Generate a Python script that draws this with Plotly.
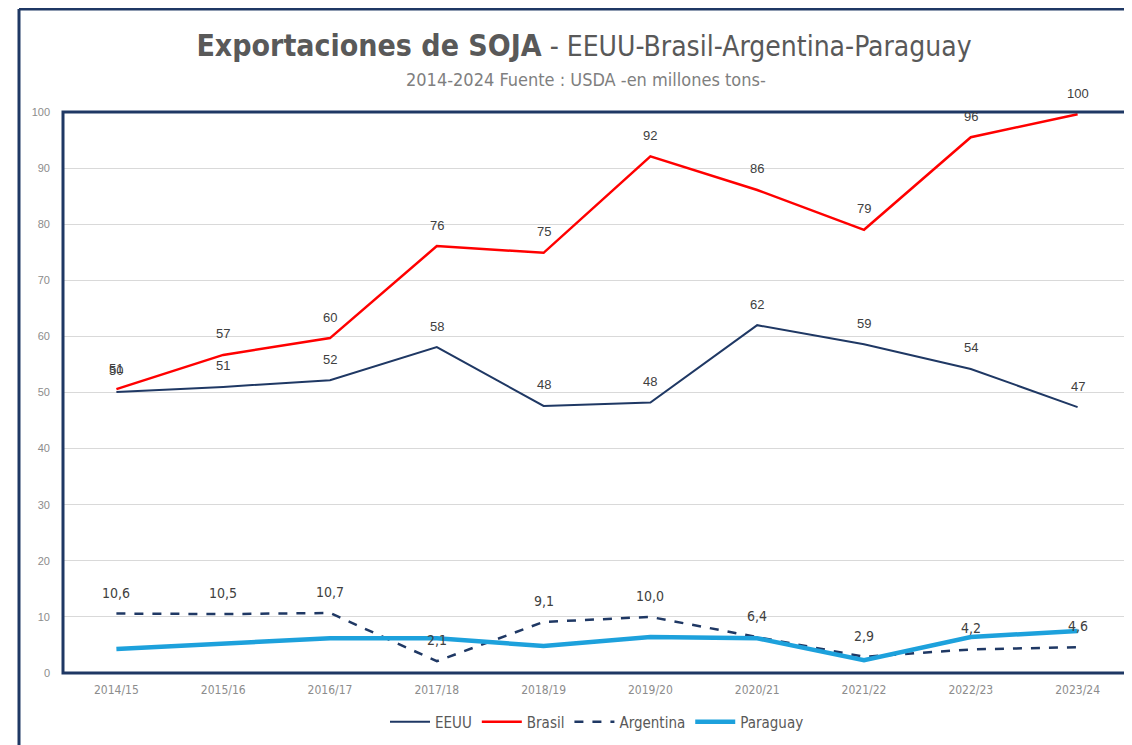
import plotly.graph_objects as go

campanias = ["2014/15", "2015/16", "2016/17", "2017/18", "2018/19",
             "2019/20", "2020/21", "2021/22", "2022/23", "2023/24"]
eeuu = [50.1, 51.0, 52.2, 58.1, 47.6, 48.2, 62.0, 58.6, 54.2, 47.4]
brasil = [50.6, 56.7, 59.7, 76.1, 74.9, 92.1, 86.1, 79.0, 95.5, 99.6]
argentina = [10.6, 10.5, 10.7, 2.1, 9.1, 10.0, 6.4, 2.9, 4.2, 4.6]
paraguay = [4.3, 5.3, 6.2, 6.2, 4.8, 6.4, 6.2, 2.3, 6.4, 7.5]

NARROW = "Liberation Sans Narrow, DejaVu Sans Condensed, Roboto Condensed, Arial Narrow, sans-serif"
ARIAL = "Liberation Sans, Arial, sans-serif"
NAVY = "#1F3864"

# page offset of 8px (body margin)
W, H = 1124, 737
L, T = 55, 104
PW = 1131 - 8 - L           # plot width
PB = 673 - 8                # plot bottom in figure coords
PH = PB - T                 # plot height

fig = go.Figure()
fig.add_trace(go.Scatter(x=campanias, y=eeuu, name="EEUU", mode="lines",
                         line=dict(color=NAVY, width=2)))
fig.add_trace(go.Scatter(x=campanias, y=brasil, name="Brasil", mode="lines",
                         line=dict(color="#FF0000", width=2.5)))
fig.add_trace(go.Scatter(x=campanias, y=argentina, name="Argentina", mode="lines",
                         line=dict(color=NAVY, width=2.5, dash="dash")))
fig.add_trace(go.Scatter(x=campanias, y=paraguay, name="Paraguay", mode="lines",
                         line=dict(color="#1DA1DC", width=4.5)))

annotations = []
for series, fmt, font in [(eeuu, lambda v: f"{round(v):d}", ARIAL),
                          (brasil, lambda v: f"{round(v):d}", ARIAL),
                          (argentina, lambda v: f"{v:.1f}".replace(".", ","), NARROW)]:
    for c, v in zip(campanias, series):
        annotations.append(dict(x=c, y=v, text=fmt(v), showarrow=False,
                                xref="x", yref="y", yshift=21,
                                font=dict(family=font, size=14 if font == NARROW else 13,
                                          color="#404040")))

annotations.append(dict(text="2014-2024 Fuente : USDA -en millones tons-",
                        xref="paper", yref="paper", x=(586 - 8 - L) / PW,
                        y=(PB - (80 - 8)) / PH, xanchor="center", yanchor="middle",
                        showarrow=False,
                        font=dict(family=NARROW, size=18, color="#7F7F7F")))

fx = (19 - 8 - L) / PW
fy = (PB - (9 - 8)) / PH

fig.update_layout(
    width=W, height=H,
    margin=dict(l=L, r=W - L - PW, t=T, b=H - PB),
    paper_bgcolor="white", plot_bgcolor="white",
    title=dict(
        text="<b>Exportaciones de SOJA</b><span style='font-size:28px'> - EEUU-Brasil-Argentina-Paraguay</span>",
        x=(584 - 8) / W, xanchor="center", y=1 - (45 - 8) / H, yanchor="middle",
        font=dict(family=NARROW, size=30, color="#595959")),
    xaxis=dict(type="category", range=[-0.5, 9.5], showgrid=False,
               tickfont=dict(family=NARROW, size=12, color="#8C8C8C"),
               ticks="", showline=False, zeroline=False, ticklabelstandoff=8),
    yaxis=dict(range=[0, 100], dtick=10, showgrid=True, gridcolor="#D9D9D9",
               gridwidth=1, zeroline=False, showline=False, ticks="",
               tickfont=dict(family=ARIAL, size=11, color="#8C8C8C"),
               ticklabelstandoff=12),
    legend=dict(orientation="h", x=0.5, xanchor="center",
                y=-(714 - PB) / PH, yanchor="middle",
                font=dict(family=NARROW, size=15, color="#595959"),
                itemwidth=40),
    showlegend=True,
    annotations=annotations,
    shapes=[
        dict(type="rect", xref="paper", yref="paper", x0=0, y0=0, x1=1, y1=1,
             line=dict(color=NAVY, width=3), layer="above"),
        dict(type="line", xref="paper", yref="paper",
             x0=fx, x1=1.1, y0=fy, y1=fy,
             line=dict(color=NAVY, width=3)),
        dict(type="line", xref="paper", yref="paper",
             x0=fx, x1=fx, y0=fy, y1=-0.2,
             line=dict(color=NAVY, width=3)),
    ],
)

fig.write_html("out.html")
